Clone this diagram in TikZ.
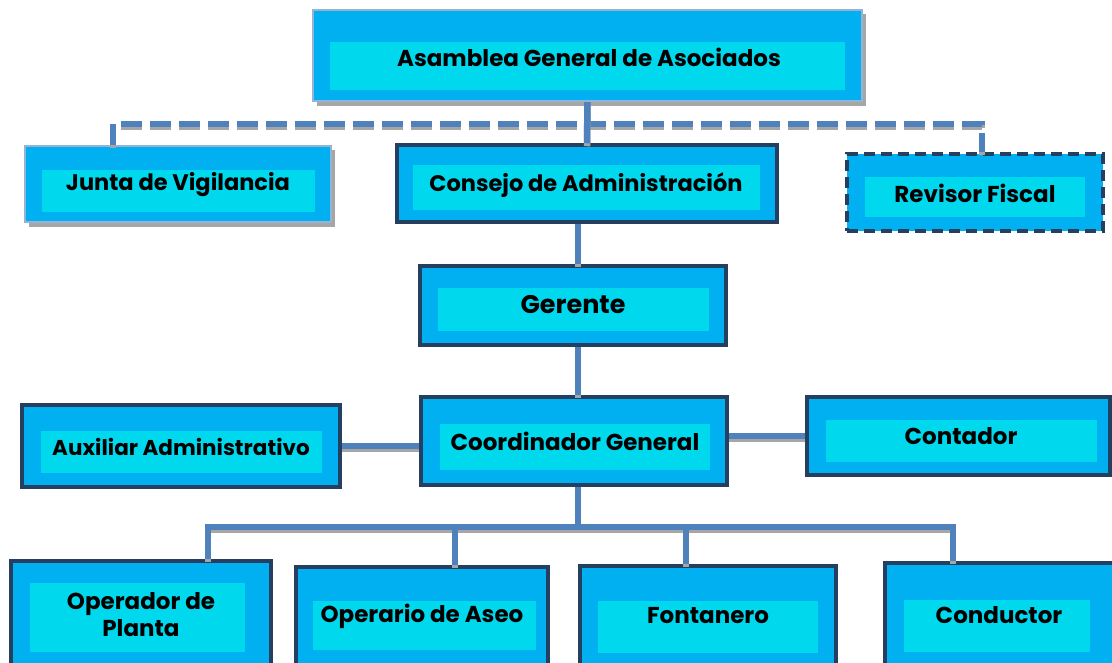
\documentclass[tikz,border=0pt]{standalone}
\usepackage{fontspec}
\setmainfont{Poppins}
\definecolor{outerblue}{HTML}{00B0F0}
\definecolor{innercyan}{HTML}{00D8EE}
\definecolor{darkedge}{HTML}{243F60}
\definecolor{lightedge}{HTML}{95B3D7}
\definecolor{connblue}{HTML}{4F81BD}
\definecolor{shadowgray}{HTML}{A6A6A6}
\tikzset{
  outerbox/.style={rectangle, inner sep=0pt, fill=outerblue, draw=darkedge, line width=3.5pt},
  lightbox/.style={rectangle, inner sep=0pt, fill=outerblue, draw=lightedge, line width=2pt},
  dashbox/.style={outerbox, line width=4pt, dash pattern=on 11pt off 6pt},
  innerbox/.style={rectangle, inner sep=0pt, fill=innercyan},
  label/.style={font=\bfseries\fontsize{23}{27}\selectfont, text=black, align=center, inner sep=0pt},
  conn/.style={draw=connblue, line width=6.5pt},
  connshadow/.style={draw=shadowgray, line width=6.5pt, transform canvas={yshift=-3pt}},
  dbus/.style={draw=connblue, line width=6.5pt, dash pattern=on 21pt off 8pt},
  dbusshadow/.style={draw=shadowgray, line width=6.5pt, dash pattern=on 21pt off 8pt, transform canvas={yshift=-3pt}},
}
\begin{document}
\begin{tikzpicture}[x=1pt,y=-1pt]
\useasboundingbox (0,0) rectangle (1112,663);
\clip (0,0) rectangle (1112,663);
% shadows of light boxes
\fill[shadowgray] (317,14) rectangle (866,106);
\fill[shadowgray] (29,150) rectangle (335,227);
% Asamblea
\node[lightbox, minimum width=549pt, minimum height=91pt] (asam) at (587.5,55.5) {};
\node[innerbox, minimum width=515pt, minimum height=48pt] (asamin) at (587.5,66) {};
\node[label] (asamt) at (589,57) {Asamblea General de Asociados};
% Junta
\node[lightbox, minimum width=306pt, minimum height=76pt] (junta) at (178,184) {};
\node[innerbox, minimum width=273pt, minimum height=42pt] (juntain) at (178.5,191) {};
\node[label, font=\bfseries\fontsize{22.5}{27}\selectfont] (juntat) at (178,185) {Junta de Vigilancia};
% Consejo
\node[outerbox, minimum width=380pt, minimum height=77pt] (consejo) at (587,183.5) {};
\node[innerbox, minimum width=347pt, minimum height=45pt] (consejoin) at (586.5,187.5) {};
\node[label, font=\bfseries\fontsize{22.5}{27}\selectfont] (consejot) at (586,185) {Consejo de Administración};
% Revisor
\node[dashbox, minimum width=256pt, minimum height=77pt] (revisor) at (975,192.5) {};
\node[innerbox, minimum width=220pt, minimum height=40pt] (revisorin) at (975,197) {};
\node[label] (revisort) at (975,193) {Revisor Fiscal};
% Gerente
\node[outerbox, minimum width=306pt, minimum height=79pt] (gerente) at (573,305.5) {};
\node[innerbox, minimum width=271pt, minimum height=43pt] (gerentein) at (573.5,309.5) {};
\node[label, font=\bfseries\fontsize{25.5}{30}\selectfont] (gerentet) at (573,305) {Gerente};
% Coordinador
\node[outerbox, minimum width=306pt, minimum height=88pt] (coord) at (574,441) {};
\node[innerbox, minimum width=270pt, minimum height=46pt] (coordin) at (575,447) {};
\node[label] (coordt) at (575,441) {Coordinador General};
% Auxiliar
\node[outerbox, minimum width=318pt, minimum height=82pt] (aux) at (181,446) {};
\node[innerbox, minimum width=281pt, minimum height=42pt] (auxin) at (181.5,452) {};
\node[label, font=\bfseries\fontsize{21.5}{26}\selectfont] (auxt) at (181,447) {Auxiliar Administrativo};
% Contador
\node[outerbox, minimum width=303pt, minimum height=78pt] (contador) at (958.5,436) {};
\node[innerbox, minimum width=271pt, minimum height=42pt] (contadorin) at (961.5,441) {};
\node[label] (contadort) at (961,436) {Contador};
% Bottom row
\node[outerbox, minimum width=260pt, minimum height=114pt] (operador) at (141,618) {};
\node[innerbox, minimum width=215pt, minimum height=69pt] (operadorin) at (137.5,617.5) {};
\node[label] (operadort) at (141,615) {Operador de\\Planta};
\node[outerbox, minimum width=252pt, minimum height=108pt] (operario) at (422,621) {};
\node[innerbox, minimum width=223pt, minimum height=49pt] (operarioin) at (424.5,625.5) {};
\node[label] (operariot) at (422,616) {Operario de Aseo};
\node[outerbox, minimum width=256pt, minimum height=109pt] (fontanero) at (708,620.5) {};
\node[innerbox, minimum width=220pt, minimum height=52pt] (fontaneroin) at (708,627) {};
\node[label] (fontanerot) at (708,616) {Fontanero};
\node[outerbox, minimum width=230pt, minimum height=112pt] (conductor) at (1000,619) {};
\node[innerbox, minimum width=186pt, minimum height=52pt] (conductorin) at (997,626) {};
\node[label] (conductort) at (999,615) {Conductor};
% coordinates
\coordinate (busL) at (113,124);
\coordinate (busR) at (982,124);
\coordinate (spine) at (578,0);
\coordinate (treebar) at (578,527);
\coordinate (tL) at (208,527);
\coordinate (tR) at (953,527);
\coordinate (d2) at (455,527);
\coordinate (d3) at (686,527);
% dashed bus
\draw[dbusshadow] (junta.north -| busL) -- (busL) -- (busR) -- (revisor.north -| busR);
\draw[dbus] (junta.north -| busL) -- (busL) -- (busR) -- (revisor.north -| busR);
% solid connectors
\foreach \s in {connshadow, conn} {
  \draw[\s] (asam.south) -- (consejo.north);
  \draw[\s] (consejo.south -| spine) -- (gerente.north -| spine);
  \draw[\s] (gerente.south -| spine) -- (coord.north -| spine);
  \draw[\s] (aux.east) -- (aux.east -| coord.west);
  \draw[\s] (coord.east |- contador.west) -- (contador.west);
  \draw[\s] (coord.south -| spine) -- (treebar);
  \draw[\s] (operador.north -| tL) -- (tL) -- (tR) -- (conductor.north -| tR);
  \draw[\s] (d2) -- (operario.north -| d2);
  \draw[\s] (d3) -- (fontanero.north -| d3);
}
\end{tikzpicture}
\end{document}
